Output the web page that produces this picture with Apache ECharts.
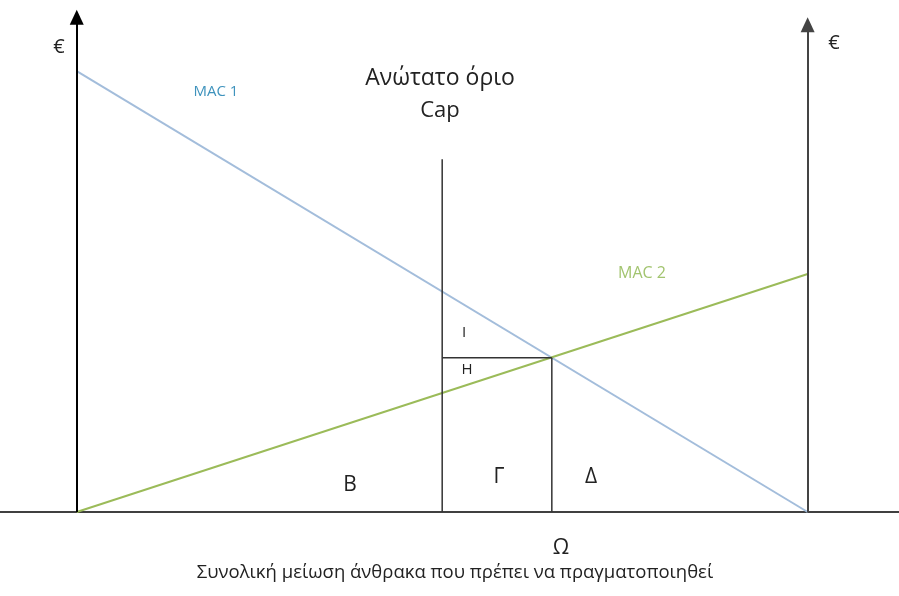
<!DOCTYPE html>
<html>
<head>
<meta charset="utf-8">
<script src="https://cdn.jsdelivr.net/npm/echarts@6/dist/echarts.min.js"></script>
<style>
  html, body { margin: 0; padding: 0; background: #fff; }
  #chart { width: 899px; height: 596px; }
</style>
</head>
<body>
<div id="chart"></div>
<script>
// Marginal abatement cost curves of two emitters and the cap
const mac1 = [[0, 100], [100, 0]];          // MAC 1, falls from the left axis
const mac2 = [[0, 0], [100, 54]];           // MAC 2, rises towards the right axis
const capQuantity = 50;                     // position of the cap
const capTop = 80;                          // height of the cap line
const omegaQuantity = 65;                   // Ω, where the curves cross
const equilibriumPrice = 35;                // price level at the crossing
const leftAxisTop = 112.2;
const rightAxisTop = 110.5;

const capLine = [[capQuantity, 0], [capQuantity, capTop]];
const omegaLine = [[omegaQuantity, 0], [omegaQuantity, equilibriumPrice]];
const priceLine = [[capQuantity, equilibriumPrice], [omegaQuantity, equilibriumPrice]];

const FONT = '"Open Sans", "Noto Sans", sans-serif';

const chart = echarts.init(document.getElementById('chart'), null, { renderer: 'canvas' });

function seg(name, data, color, width) {
  return {
    name, type: 'line', data, symbol: 'none', silent: true, animation: false,
    lineStyle: { color, width }, z: 3
  };
}

function text(x, y, t, size, color) {
  return {
    type: 'text', x, y, silent: true,
    style: { text: t, fontSize: size, fontFamily: FONT, fill: color || '#222', align: 'center', verticalAlign: 'middle' }
  };
}

chart.setOption({
  animation: false,
  backgroundColor: '#fff',
  grid: { left: 0, right: 0, top: 5, bottom: 84 },
  xAxis: {
    type: 'value', min: -10.5, max: 112.5,
    axisLine: { show: true, lineStyle: { color: '#000', width: 1.5 } },
    axisTick: { show: false }, axisLabel: { show: false }, splitLine: { show: false }
  },
  yAxis: {
    type: 'value', min: 0, max: 115, show: false, splitLine: { show: false }
  },
  series: [
    {
      name: 'axes', type: 'line', data: [], silent: true, animation: false,
      markLine: {
        silent: true, animation: false,
        symbol: ['none', 'triangle'], symbolSize: [14, 15],
        label: { show: false },
        lineStyle: { color: '#000', width: 2, type: 'solid' },
        data: [
          [{ coord: [0, 0] }, { coord: [0, leftAxisTop] }],
          [{ coord: [100, 0], lineStyle: { color: '#444', width: 2, type: 'solid' } },
           { coord: [100, rightAxisTop] }]
        ]
      }
    },
    seg('MAC 1', mac1, '#a3bddb', 2),
    seg('MAC 2', mac2, '#9bbb59', 2),
    seg('cap', capLine, '#333', 1.5),
    seg('omega', omegaLine, '#333', 1.5),
    seg('price', priceLine, '#333', 1.5)
  ],
  graphic: [
    text(59, 47, '€', 20),
    text(834, 43, '€', 20),
    text(216, 92, 'MAC 1', 15, '#3f93bd'),
    text(642, 273, 'MAC 2', 16, '#a2c46f'),
    text(440, 78, 'Ανώτατο όριο', 23),
    text(440, 111, 'Cap', 22),
    text(464, 333, 'I', 15),
    text(467, 370, 'H', 15),
    text(350, 485, 'B', 21),
    text(499, 477, 'Γ', 21),
    text(591, 477, 'Δ', 21),
    text(561, 548, 'Ω', 21),
    text(455, 573, 'Συνολική μείωση άνθρακα που πρέπει να πραγματοποιηθεί', 18.5)
  ]
});
</script>
</body>
</html>
